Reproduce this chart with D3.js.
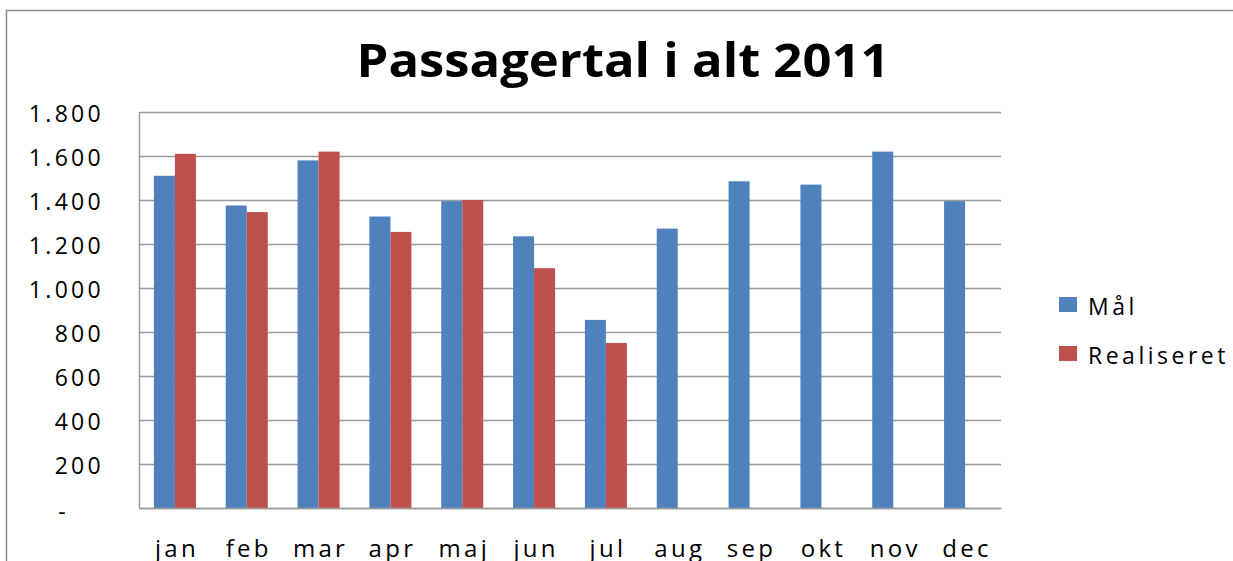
<!DOCTYPE html>
<html>
<head>
<meta charset="utf-8">
<script src="https://cdn.jsdelivr.net/npm/d3@7"></script>
<style>
  body { margin: 0; background: #fff; }
  text { font-family: "Open Sans", sans-serif; fill: #000; }
</style>
</head>
<body>
<script>
// data
var months = ["jan", "feb", "mar", "apr", "maj", "jun", "jul", "aug", "sep", "okt", "nov", "dec"];
var maal = [1510, 1375, 1580, 1325, 1395, 1235, 855, 1270, 1485, 1470, 1620, 1395];
var realiseret = [1610, 1345, 1620, 1255, 1400, 1090, 750, null, null, null, null, null];
var seriesNames = ["Mål", "Realiseret"];
var yTicks = [0, 200, 400, 600, 800, 1000, 1200, 1400, 1600, 1800];

var colors = ["#4F81BD", "#C0504D"];

var width = 1233, height = 561;
var margin = { top: 112, right: 232, bottom: 53, left: 139 };
var plotW = width - margin.left - margin.right,
    plotH = height - margin.top - margin.bottom;

var svg = d3.select("body")
  .append("svg")
  .attr("width", width)
  .attr("height", height);

// outer chart frame
svg.append("rect")
  .attr("x", 6.5)
  .attr("y", 10.5)
  .attr("width", 1300)
  .attr("height", 700)
  .attr("fill", "none")
  .attr("stroke", "#8c8c8c")
  .attr("stroke-width", 1.5);

// title
svg.append("text")
  .attr("x", 623)
  .attr("y", 77)
  .attr("text-anchor", "middle")
  .attr("textLength", 533)
  .attr("lengthAdjust", "spacingAndGlyphs")
  .style("font-size", "46px")
  .style("font-weight", "bold")
  .text("Passagertal i alt 2011");

var g = svg.append("g")
  .attr("transform", "translate(" + margin.left + "," + margin.top + ")");

var x0 = d3.scaleBand()
  .domain(months)
  .range([0, plotW])
  .paddingInner(0.415)
  .paddingOuter(0.2075);

var x1 = d3.scaleBand()
  .domain([0, 1])
  .range([0, x0.bandwidth()]);

var y = d3.scaleLinear()
  .domain([0, 1800])
  .range([plotH, 0]);

// gridlines
g.append("g")
  .selectAll("line")
  .data(yTicks)
  .enter()
  .append("line")
  .attr("x1", 0)
  .attr("x2", plotW)
  .attr("y1", function (d) { return Math.round(y(d)) + 0.5; })
  .attr("y2", function (d) { return Math.round(y(d)) + 0.5; })
  .attr("stroke", "#9c9c9c")
  .attr("stroke-width", 1.5);

// y axis labels
var yAxis = g.append("g")
  .call(d3.axisLeft(y)
    .tickValues(yTicks)
    .tickSize(0)
    .tickPadding(35)
    .tickFormat(function (d) {
      return d === 0 ? "-" : d3.format(",")(d).replace(/,/g, ".");
    }));
yAxis.select(".domain").remove();
yAxis.selectAll("text")
  .style("font-size", "23px")
  .style("letter-spacing", "3.3px")
  .style("font-family", "'Open Sans', sans-serif")
  .attr("fill", "#000")
  .attr("dy", "0.4em");
yAxis.selectAll("text")
  .filter(function (d) { return d === 0; })
  .attr("dx", -35)
  .attr("dy", "0.5em");

// bars
var groups = g.selectAll(".month")
  .data(months)
  .enter()
  .append("g")
  .attr("class", "month")
  .attr("transform", function (d) { return "translate(" + x0(d) + ",0)"; });

groups.selectAll("rect")
  .data(function (d, i) {
    return [maal[i], realiseret[i]].map(function (v, s) { return { s: s, v: v }; })
      .filter(function (e) { return e.v != null; });
  })
  .enter()
  .append("rect")
  .attr("x", function (d) { return x1(d.s); })
  .attr("y", function (d) { return y(d.v); })
  .attr("width", x1.bandwidth())
  .attr("height", function (d) { return plotH - y(d.v); })
  .attr("fill", function (d) { return colors[d.s]; });

// axis lines
g.append("line")
  .attr("x1", 0.5).attr("x2", 0.5)
  .attr("y1", 0).attr("y2", plotH)
  .attr("stroke", "#9c9c9c")
  .attr("stroke-width", 1.5);

var xAxis = g.append("g")
  .attr("transform", "translate(0," + plotH + ")")
  .call(d3.axisBottom(x0).tickSize(0).tickPadding(32));
xAxis.select(".domain")
  .attr("stroke", "#9c9c9c")
  .attr("stroke-width", 1.5);
xAxis.selectAll("text")
  .style("font-size", "24px")
  .style("letter-spacing", "3.3px")
  .style("font-family", "'Open Sans', sans-serif")
  .attr("fill", "#000")
  .attr("dx", "2px");

// legend
var legend = svg.append("g")
  .attr("transform", "translate(1059,297)");

legend.selectAll("rect")
  .data(seriesNames)
  .enter()
  .append("rect")
  .attr("x", 0)
  .attr("y", function (d, i) { return i * 49; })
  .attr("width", 18)
  .attr("height", 15)
  .attr("fill", function (d, i) { return colors[i]; });

legend.selectAll("text")
  .data(seriesNames)
  .enter()
  .append("text")
  .attr("x", 29)
  .attr("y", function (d, i) { return i * 49 + 18; })
  .style("font-size", "23px")
  .style("letter-spacing", "3.5px")
  .text(function (d) { return d; });
</script>
</body>
</html>
